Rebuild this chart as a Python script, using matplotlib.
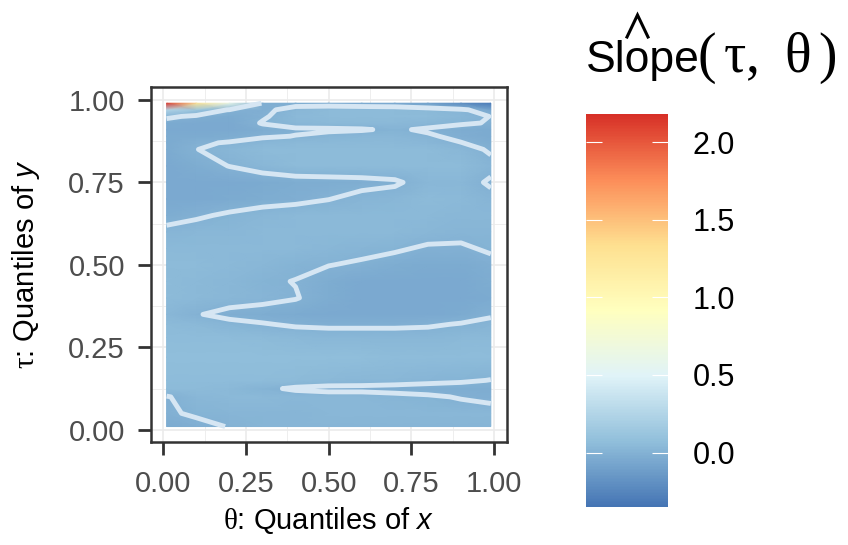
import matplotlib
matplotlib.use('Agg')
import matplotlib.pyplot as plt
from matplotlib.colors import LinearSegmentedColormap, Normalize
from matplotlib.lines import Line2D

plt.rcParams['font.family'] = ['Liberation Sans', 'DejaVu Sans']
plt.rcParams['mathtext.fontset'] = 'custom'
plt.rcParams['mathtext.rm'] = 'Liberation Serif'
plt.rcParams['mathtext.it'] = 'Liberation Sans:italic'

# quantile grid (theta = columns, tau = rows)
theta = [0.01, 0.1, 0.2, 0.3, 0.4, 0.5, 0.6, 0.7, 0.8, 0.9, 0.99]
tau = [0.01, 0.05, 0.10, 0.125, 0.15, 0.22, 0.28, 0.32, 0.35, 0.40, 0.45,
       0.50, 0.55, 0.60, 0.65, 0.70, 0.75, 0.80, 0.85, 0.87, 0.89, 0.91,
       0.93, 0.95, 0.97, 0.99]

# estimated slope values, one row per tau
slope = [
    [-0.04, -0.02, 0.003, 0.02, 0.025, 0.025, 0.025, 0.025, 0.025, 0.025, 0.02],
    [-0.01, 0.01, 0.02, 0.025, 0.025, 0.03, 0.03, 0.03, 0.03, 0.03, 0.03],
    [-0.005, 0.03, 0.04, 0.04, 0.035, 0.03, 0.03, 0.02, 0.01, -0.005, -0.02],
    [0.05, 0.05, 0.04, 0.015, -0.01, -0.02, -0.02, -0.025, -0.03, -0.03, -0.03],
    [0.06, 0.06, 0.06, 0.06, 0.05, 0.04, 0.035, 0.03, 0.02, 0.01, -0.002],
    [0.07, 0.07, 0.07, 0.07, 0.07, 0.07, 0.07, 0.06, 0.06, 0.06, 0.06],
    [0.06, 0.06, 0.06, 0.05, 0.04, 0.035, 0.035, 0.035, 0.035, 0.04, 0.045],
    [0.05, 0.04, 0.02, 0.005, -0.01, -0.015, -0.015, -0.015, -0.01, 0.005, 0.02],
    [0.03, 0.005, -0.02, -0.03, -0.04, -0.05, -0.05, -0.05, -0.05, -0.04, -0.01],
    [0.05, 0.04, 0.03, 0.02, 0.004, -0.03, -0.05, -0.05, -0.05, -0.05, -0.04],
    [0.05, 0.04, 0.03, 0.01, -0.002, -0.03, -0.05, -0.05, -0.05, -0.05, -0.03],
    [0.05, 0.05, 0.04, 0.03, 0.015, 0.002, -0.01, -0.03, -0.04, -0.04, -0.02],
    [0.04, 0.04, 0.04, 0.04, 0.04, 0.03, 0.02, 0.01, -0.01, -0.01, 0.01],
    [0.02, 0.03, 0.03, 0.04, 0.04, 0.04, 0.04, 0.04, 0.03, 0.02, 0.02],
    [-0.03, -0.01, 0.01, 0.03, 0.04, 0.04, 0.04, 0.04, 0.04, 0.03, 0.03],
    [-0.05, -0.05, -0.04, -0.03, -0.02, -0.002, 0.02, 0.03, 0.05, 0.04, 0.02],
    [-0.05, -0.05, -0.05, -0.04, -0.03, -0.025, -0.02, -0.01, 0.03, 0.03, -0.01],
    [-0.05, -0.03, 0.002, 0.03, 0.05, 0.05, 0.05, 0.05, 0.05, 0.05, 0.02],
    [-0.04, -0.002, 0.03, 0.05, 0.05, 0.05, 0.05, 0.05, 0.05, 0.03, -0.01],
    [-0.04, -0.01, 0.005, 0.03, 0.04, 0.04, 0.04, 0.04, 0.03, 0.002, -0.03],
    [-0.04, -0.04, -0.03, -0.01, 0.002, 0.02, 0.03, 0.03, 0.01, -0.02, -0.04],
    [-0.05, -0.05, -0.05, -0.03, -0.01, -0.01, -0.005, 0.01, -0.01, -0.03, -0.04],
    [-0.04, -0.05, -0.05, 0.005, 0.03, 0.04, 0.04, 0.04, 0.03, 0.01, -0.005],
    [0.02, -0.02, -0.04, -0.01, 0.04, 0.05, 0.05, 0.05, 0.05, 0.03, -0.002],
    [0.25, 0.12, -0.01, -0.02, 0.03, 0.05, 0.05, 0.05, 0.04, 0.02, -0.06],
    [2.15, 1.3, 0.6, -0.02, -0.03, -0.04, -0.05, -0.06, -0.1, -0.22, -0.32],
]

ticks = [0.0, 0.25, 0.5, 0.75, 1.0]
tick_labels = ['0.00', '0.25', '0.50', '0.75', '1.00']
cbar_ticks = [0.0, 0.5, 1.0, 1.5, 2.0]
cbar_labels = ['0.0', '0.5', '1.0', '1.5', '2.0']

# RdYlBu (7 class) reversed, like scale_fill_distiller
cmap = LinearSegmentedColormap.from_list(
    'rdylbu', ['#4575b4', '#91bfdb', '#e0f3f8', '#ffffbf', '#fee090', '#fc8d59', '#d73027'])
norm = Normalize(vmin=-0.35, vmax=2.18)

fig = plt.figure(figsize=(8.48, 5.45), dpi=100)
ax = fig.add_axes([0.1777, 0.1895, 0.4198, 0.6514])

mesh = ax.pcolormesh(theta, tau, slope, shading='gouraud', cmap=cmap, norm=norm, zorder=2)
ax.contour(theta, tau, slope, levels=[0.0], colors='#d6e6f3', linewidths=3.5, zorder=3)

ax.set_xlim(-0.038, 1.038)
ax.set_ylim(-0.036, 1.04)
ax.set_xticks(ticks)
ax.set_xticklabels(tick_labels)
ax.set_yticks(ticks)
ax.set_yticklabels(tick_labels)
ax.set_xticks([0.125, 0.375, 0.625, 0.875], minor=True)
ax.set_yticks([0.125, 0.375, 0.625, 0.875], minor=True)
ax.grid(which='major', color='#ebebeb', linewidth=1.2, zorder=0)
ax.grid(which='minor', color='#ebebeb', linewidth=0.6, zorder=0)
ax.tick_params(which='major', length=9.5, width=2, color='#333333',
               labelsize=21, labelcolor='#4d4d4d')
ax.tick_params(axis='x', pad=11)
ax.tick_params(axis='y', pad=9)
ax.tick_params(which='minor', length=0)
for s in ax.spines.values():
    s.set_color('#333333')
    s.set_linewidth(1.8)

ax.set_xlabel(r'$\mathrm{\theta}$: Quantiles of $\mathit{x}$', fontsize=21, color='black')
ax.xaxis.set_label_coords(0.5, -0.178)
ax.set_ylabel(r'$\mathrm{\tau}$: Quantiles of $\mathit{y}$', fontsize=21, color='black')
ax.yaxis.set_label_coords(-0.305, 0.5)

# colour bar
cax = fig.add_axes([0.691, 0.0697, 0.0967, 0.721])
cb = fig.colorbar(mesh, cax=cax, ticks=cbar_ticks)
cb.outline.set_visible(False)
cb.ax.minorticks_off()
cb.ax.set_yticklabels(cbar_labels)
cax.tick_params(axis='y', direction='in', length=11.5, width=0.8, color='white',
                left=True, right=True, labelleft=False, labelright=True,
                labelsize=22, labelcolor='black', pad=18)

# legend title: hat(Slope)(tau, theta)
fig.text(586 / 848, 1 - 72 / 545, 'Slope', fontsize=32, ha='left', va='baseline')
fig.text(697 / 848, 1 - 72 / 545, r'$\mathrm{(\,\tau,\ \theta\,)}$', fontsize=40,
         ha='left', va='baseline')
# the hat accent above "Slope"
fig.add_artist(Line2D([627 / 848, 637.5 / 848, 648 / 848],
                      [1 - 37 / 545, 1 - 15 / 545, 1 - 37 / 545],
                      color='black', linewidth=2.2, solid_joinstyle='miter'))

fig.savefig('out.png', dpi=100)
